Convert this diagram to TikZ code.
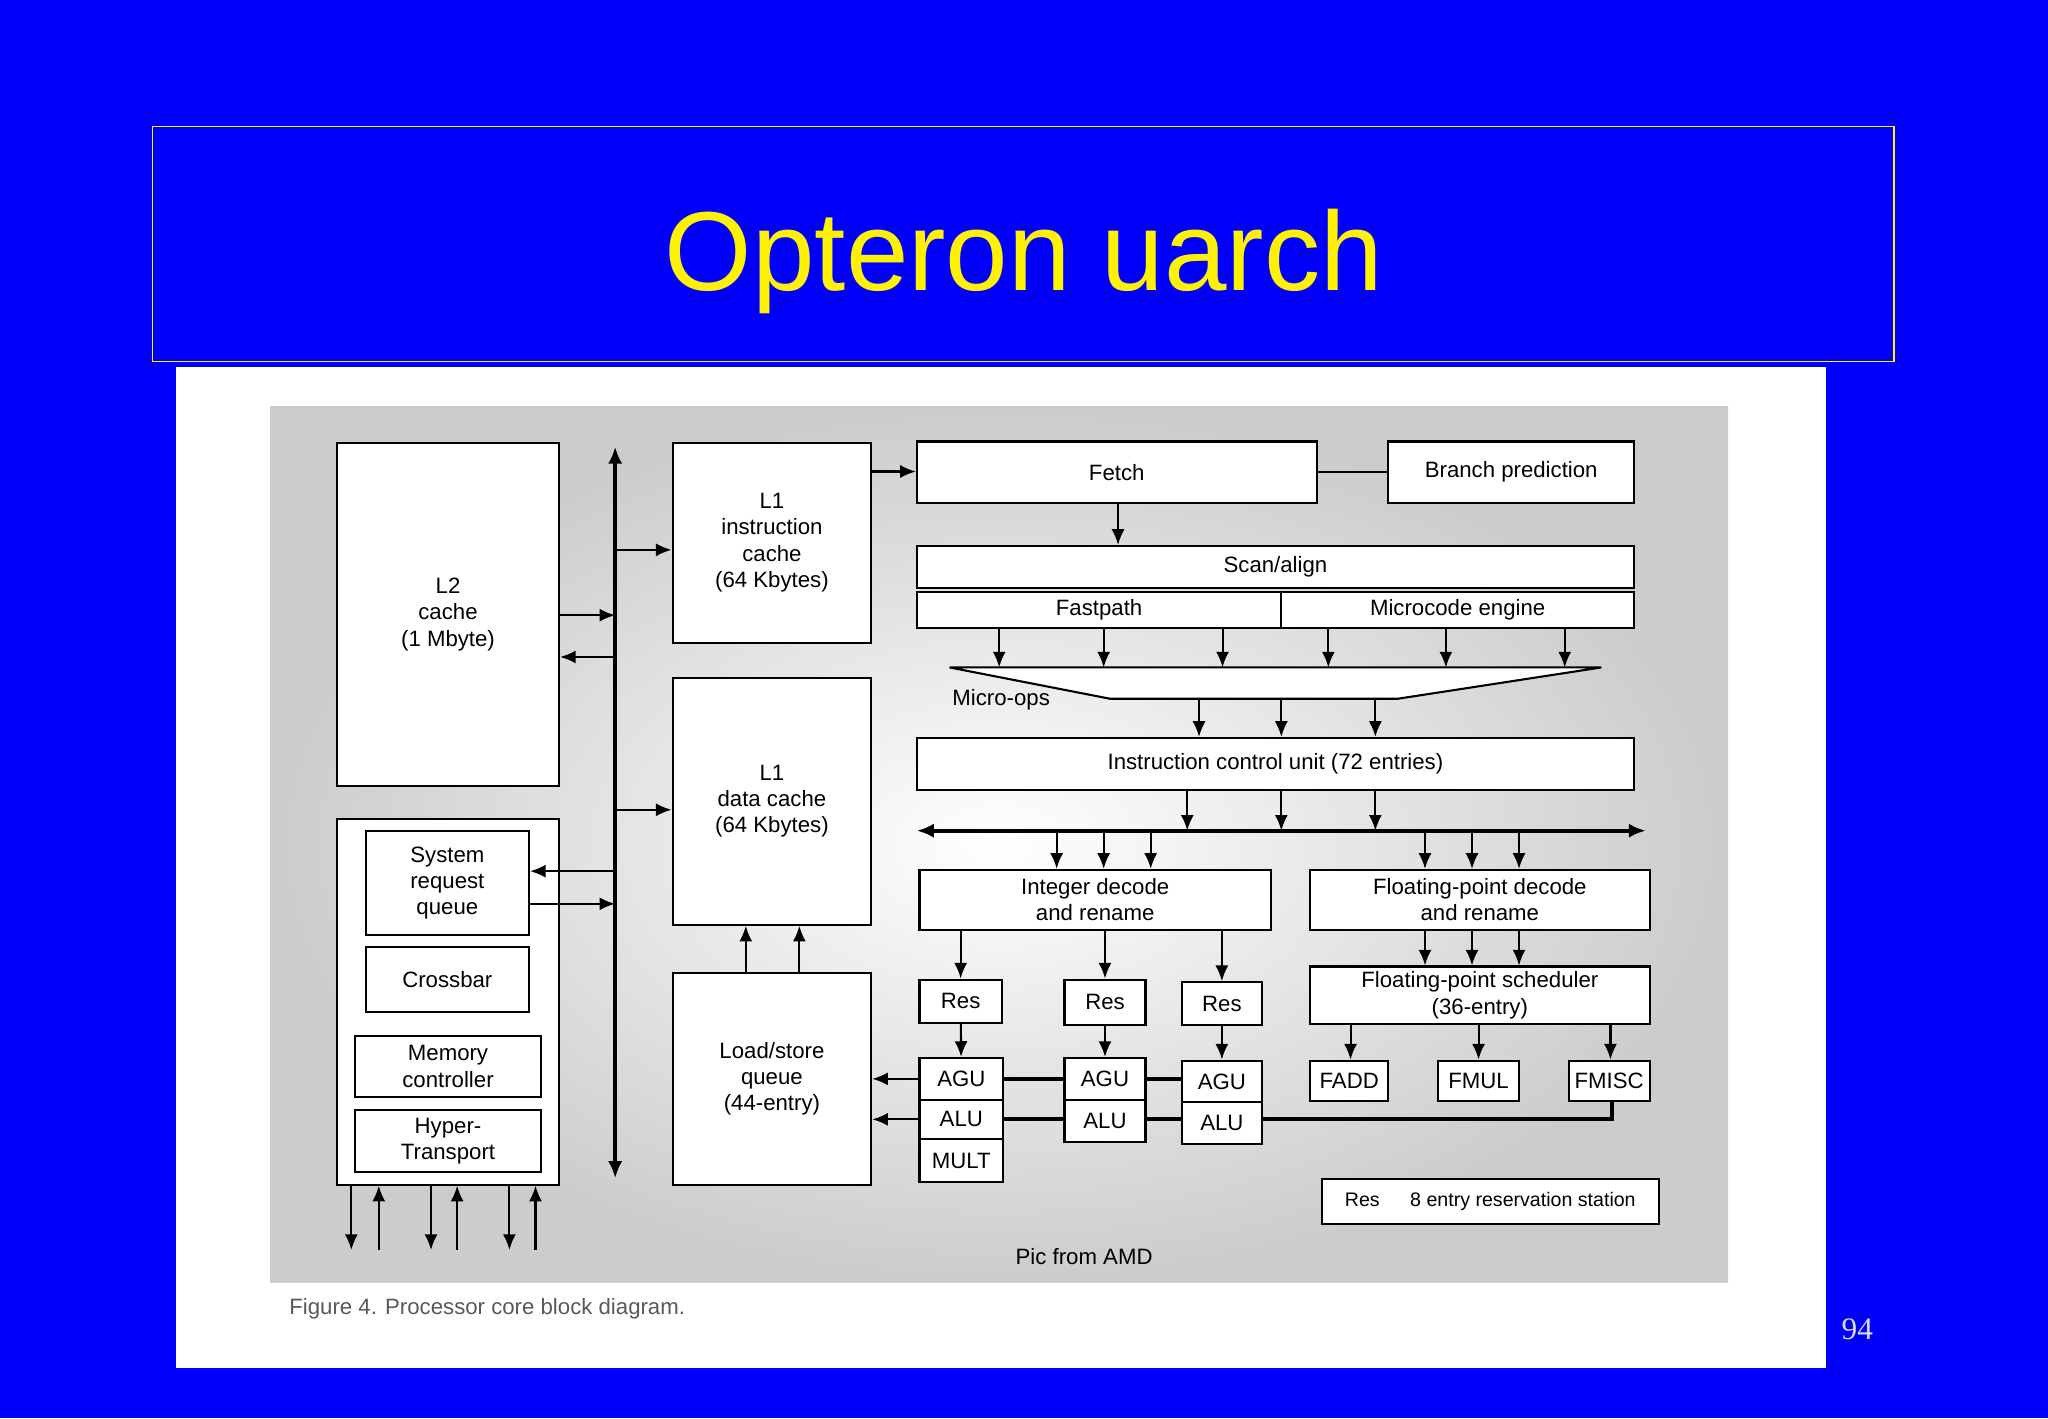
\documentclass[tikz,border=0pt]{standalone}
\usepackage{fontspec}
\setmainfont{Liberation Sans}
\usetikzlibrary{fit,arrows.meta}
\newfontfamily\serifx{Liberation Serif}
\tikzset{
 box/.style={draw,line width=1.6pt,fill=white,inner sep=0pt},
 every label/.style={align=center,font=\fontsize{17}{20}\selectfont,inner sep=0pt},
 arr/.style={line width=1.6pt,-{Latex[length=12pt,width=10pt]}},
 darr/.style={line width=3pt,{Latex[length=13pt,width=11pt]}-{Latex[length=13pt,width=11pt]}},
 ln/.style={line width=1.6pt},
 thk/.style={line width=3pt}
}
\newcommand\bx[6]{\node[box,fit={(#2,#3) (#4,#5)},label={center:#6}] (#1) {};}
\begin{document}
\begin{tikzpicture}[x=1pt,y=-1pt]
\useasboundingbox (0,0) rectangle (1568,1086);
\fill[fill={rgb,255:red,0;green,0;blue,250}] (0,0) rectangle (1568,1086);
\draw[yellow,line width=1pt] (117,97) rectangle (1450,277);
\node[text=yellow,font=\fontsize{86}{96}\selectfont] (title) at (784,200) {Opteron uarch};
\fill[white] (135,281) rectangle (1398,1047);
\shade[inner color=white,outer color=black!20] (207,311) rectangle (1323,982);
\node[anchor=west,text=black!65,font=\fontsize{17}{20}\selectfont] (cap) at (218,1002) {Figure 4. Processor core block diagram.};
\node[font=\fontsize{17}{20}\selectfont] (pic) at (830,962) {Pic from AMD};
\node[text=black!15,font=\serifx\fontsize{24}{26}\selectfont] (pg) at (1422,1018) {94};

% left column
\bx{l2}{258}{339}{428}{602}{L2\\cache\\(1 Mbyte)}
\node[box,fit={(258,627) (428,907)}] (nb) {};
\bx{srq}{280}{636}{405}{716}{System\\request\\queue}
\bx{xbar}{280}{725}{405}{775}{Crossbar}
\bx{mc}{272}{793}{414}{840}{Memory\\controller}
\bx{ht}{272}{850}{414}{897}{Hyper-\\Transport}
\coordinate (bt) at (471,342); \coordinate (bb) at (471,902);
\draw[darr] (bt) -- (bb);
% L1
\bx{l1i}{515}{339}{667}{492}{L1\\instruction\\cache\\(64 Kbytes)}
\bx{l1d}{515}{519}{667}{708}{L1\\data cache\\(64 Kbytes)}
\bx{lsq}{515}{745}{667}{907}{Load/store\\queue\\(44-entry)}
\draw[arr] (471,421) -- (l1i.west |- 0,421);
\draw[arr] (471,620) -- (l1d.west |- 0,620);
\draw[arr] (l2.east |- 0,471) -- (471,471);
\draw[arr] (471,503) -- (l2.east |- 0,503);
\draw[arr] (471,667) -- (srq.east |- 0,667);
\draw[arr] (srq.east |- 0,692) -- (471,692);
\draw[arr] (lsq.north -| 571,0) -- (l1d.south -| 571,0);
\draw[arr] (lsq.north -| 612,0) -- (l1d.south -| 612,0);
\foreach \x in {269,330,390} \draw[arr] (nb.south -| \x,0) -- (\x,957);
\foreach \x in {290,350,410} \draw[arr] (\x,957) -- (nb.south -| \x,0);
% front end
\bx{fetch}{702}{338}{1008}{385}{Fetch}
\bx{bp}{1063}{338}{1251}{385}{Branch prediction}
\draw[ln] (fetch) -- (bp);
\draw[arr] (l1i.east |- 0,361) -- (fetch.west |- 0,361);
\bx{scan}{702}{418}{1251}{450}{Scan/align}
\draw[arr] (fetch.south -| 856,0) -- (scan.north -| 856,0);
\bx{fast}{702}{453}{981}{481}{Fastpath}
\bx{mce}{981}{453}{1251}{481}{Microcode engine}
\draw[line width=1.6pt,fill=white] (727,511) coordinate (f1) -- (1226,511) -- (1070,535) -- (850,535) -- cycle;
\node[anchor=north west,font=\fontsize{17}{20}\selectfont,inner sep=0] (mo) at (729,528) {Micro-ops};
\foreach \x in {765,845,936} \draw[arr] (fast.south -| \x,0) -- (\x,511);
\foreach \x in {1017,1107,1198} \draw[arr] (mce.south -| \x,0) -- (\x,511);
\bx{icu}{702}{565}{1251}{605}{Instruction control unit (72 entries)}
\foreach \x in {918,981,1053} \draw[arr] (\x,535) -- (icu.north -| \x,0);
\coordinate (hl) at (702,636); \coordinate (hr) at (1260,636);
\draw[darr] (hl) -- (hr);
\foreach \x in {909,981,1053} \draw[arr] (icu.south -| \x,0) -- (\x,636);
% integer
\bx{idr}{704}{666}{973}{712}{Integer decode\\and rename}
\bx{fdr}{1003}{666}{1263}{712}{Floating-point decode\\and rename}
\foreach \x in {809,845,881} \draw[arr] (\x,636) -- (idr.north -| \x,0);
\foreach \x in {1091,1127,1163} \draw[arr] (\x,636) -- (fdr.north -| \x,0);
\bx{r1}{704}{750}{767}{783}{Res}
\bx{r2}{815}{750}{877}{785}{Res}
\bx{r3}{905}{752}{966}{785}{Res}
\draw[arr] (idr.south -| r1) -- (r1);
\draw[arr] (idr.south -| r2) -- (r2);
\draw[arr] (idr.south -| r3) -- (r3);
\bx{ag1}{704}{810}{768}{842}{AGU}
\bx{al1}{704}{842}{768}{872}{ALU}
\bx{mu1}{704}{872}{768}{905}{MULT}
\bx{ag2}{815}{810}{877}{842}{AGU}
\bx{al2}{815}{842}{877}{874}{ALU}
\bx{ag3}{905}{812}{966}{844}{AGU}
\bx{al3}{905}{844}{966}{876}{ALU}
\draw[arr] (r1) -- (ag1);
\draw[arr] (r2) -- (ag2);
\draw[arr] (r3) -- (ag3);
\draw[thk] (ag1.east |- 0,826) -- (ag2.west |- 0,826) (ag2.east |- 0,826) -- (ag3.west |- 0,826);
\draw[thk] (al1.east |- 0,857) -- (al2.west |- 0,857) (al2.east |- 0,857) -- (al3.west |- 0,857);
\draw[arr] (ag1.west |- 0,826) -- (lsq.east |- 0,826);
\draw[arr] (al1.west |- 0,857) -- (lsq.east |- 0,857);
% fp
\bx{fps}{1003}{740}{1263}{784}{Floating-point scheduler\\(36-entry)}
\foreach \x in {1091,1127,1163} \draw[arr] (fdr.south -| \x,0) -- (fps.north -| \x,0);
\bx{fadd}{1003}{812}{1063}{843}{FADD}
\bx{fmul}{1101}{812}{1163}{843}{FMUL}
\bx{fmisc}{1201}{812}{1263}{843}{FMISC}
\draw[arr] (fps.south -| 1034,0) -- (fadd.north -| 1034,0);
\draw[arr] (fps.south -| 1132,0) -- (fmul.north -| 1132,0);
\draw[arr] (fps.south -| 1233,0) -- (fmisc.north -| 1233,0);
\draw[thk] (al3.east |- 0,857) -- (1234,857) -- (fmisc.south -| 1234,0);
\node[box,fit={(1012,903) (1270,937)},label={center:{\fontsize{15}{18}\selectfont Res\quad\ \ 8 entry reservation station}}] (leg) {};
\end{tikzpicture}
\end{document}
